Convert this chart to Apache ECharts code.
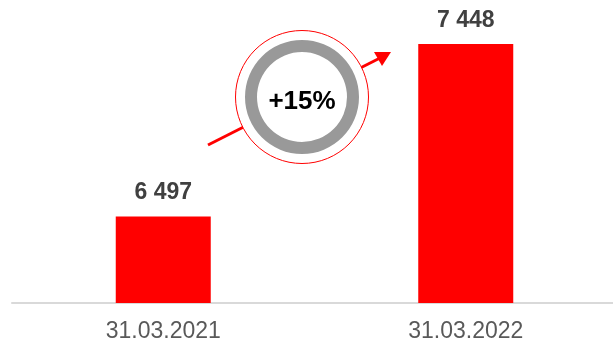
<!DOCTYPE html>
<html>
<head>
<meta charset="utf-8">
<script src="https://cdn.jsdelivr.net/npm/echarts@6/dist/echarts.min.js"></script>
<style>
  html, body { margin: 0; padding: 0; background: #fff; }
  #chart { width: 613px; height: 348px; }
</style>
</head>
<body>
<div id="chart"></div>
<script>
// Reporting dates and the totals at each date
const categories = ['31.03.2021', '31.03.2022'];
const values = [6497, 7448];

// "6497" -> "6 497"
function fmt(v) {
  return String(v).replace(/\B(?=(\d{3})+(?!\d))/g, ' ');
}

// Growth between the two dates, shown in the badge
const growthPct = Math.round((values[1] / values[0] - 1) * 100);
const growthText = '+' + growthPct + '%';

const chart = echarts.init(document.getElementById('chart'), null, { renderer: 'canvas' });

const badge = { cx: 302, cy: 97 };

chart.setOption({
  animation: false,
  grid: { left: 12, right: -4, top: 0, bottom: 45, outerBoundsMode: 'none' },
  xAxis: {
    type: 'category',
    data: categories,
    axisLine: { show: true, lineStyle: { color: '#d9d9d9', width: 2 } },
    axisTick: { show: false },
    axisLabel: {
      color: '#595959',
      fontFamily: 'Liberation Sans, Arial, sans-serif',
      fontSize: 23,
      margin: 17
    }
  },
  yAxis: {
    type: 'value',
    min: 6020,
    max: 7690,
    show: false,
    splitLine: { show: false }
  },
  series: [{
    type: 'bar',
    data: values,
    barWidth: 95,
    itemStyle: { color: '#ff0000' },
    label: {
      show: true,
      position: 'top',
      distance: 12,
      color: '#404040',
      fontFamily: 'Liberation Sans, Arial, sans-serif',
      fontWeight: 'bold',
      fontSize: 23,
      formatter: p => fmt(p.value)
    }
  }],
  graphic: [
    // growth arrow (drawn first so the badge covers its middle)
    {
      type: 'line',
      z: 10,
      shape: { x1: 208, y1: 145, x2: 382, y2: 57 },
      style: { stroke: '#ff0000', lineWidth: 3 }
    },
    {
      type: 'polygon',
      z: 10,
      shape: { points: [[391, 52], [374, 52], [382, 66]] },
      style: { fill: '#ff0000' }
    },
    // badge: thin red outline with white fill
    {
      type: 'circle',
      z: 11,
      shape: { cx: badge.cx, cy: badge.cy, r: 66.5 },
      style: { fill: '#ffffff', stroke: '#ff0000', lineWidth: 1 }
    },
    // grey ring
    {
      type: 'ring',
      z: 12,
      shape: { cx: badge.cx, cy: badge.cy, r: 57, r0: 45 },
      style: { fill: '#999999' }
    },
    {
      type: 'text',
      z: 13,
      x: badge.cx,
      y: badge.cy + 5,
      style: {
        text: growthText,
        fill: '#000000',
        font: 'bold 26px "Liberation Sans", Arial, sans-serif',
        align: 'center',
        verticalAlign: 'middle'
      }
    }
  ]
});
</script>
</body>
</html>
